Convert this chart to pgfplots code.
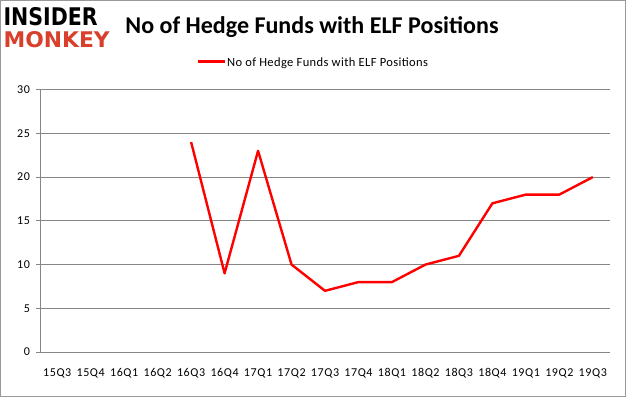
\documentclass[border=0pt]{standalone}
\usepackage{pgfplots}
\pgfplotsset{compat=1.18}
\usepackage{fontspec}
\setmainfont{Carlito}
\newfontfamily\tickfont{Carlito}[LetterSpace=5]
\newfontfamily\legfont{Carlito}[LetterSpace=3]
\newfontfamily\logofont{DejaVu Sans}
\definecolor{gridgray}{RGB}{134,134,134}
\definecolor{monkeyred}{RGB}{216,64,43}
\begin{document}
\begin{tikzpicture}[x=1pt,y=1pt]
\draw[gray!80, line width=0.8pt] (-40,-44) rectangle (584,351);
\begin{axis}[
  at={(0,0)}, anchor=south west,
  scale only axis, width=568pt, height=262pt,
  xmin=-0.5, xmax=16.5, ymin=0, ymax=30,
  ytick={0,5,...,30},
  xtick={0,...,16},
  xticklabels={15Q3,15Q4,16Q1,16Q2,16Q3,16Q4,17Q1,17Q2,17Q3,17Q4,18Q1,18Q2,18Q3,18Q4,19Q1,19Q2,19Q3},
  extra x ticks={-0.5,0.5,...,16.5},
  extra x tick labels={},
  extra x tick style={major tick length=4pt, tick style={gridgray, line width=0.8pt}, tick align=outside, grid=none},
  major x tick style={draw=none},
  ymajorgrids, grid style={gridgray, line width=0.8pt},
  axis x line*=bottom, axis y line*=left,
  axis line style={gridgray, line width=0.8pt},
  y axis line style={-}, x axis line style={-},
  ytick style={gridgray, line width=0.8pt}, tick align=outside, major tick length=4pt,
  tick label style={font=\tickfont\fontsize{12}{13}\selectfont, text=black},
  yticklabel style={xshift=-3pt},
  xticklabel style={yshift=-9pt},
  /pgf/number format/assume math mode=true,
]
\addplot[red, line width=2.4pt, line join=round] coordinates {
 (4,24) (5,9) (6,23) (7,10) (8,7) (9,8) (10,8) (11,10) (12,11) (13,17) (14,18) (15,18) (16,20)
};
\end{axis}
\node[anchor=base, font=\bfseries\fontsize{24}{26}\selectfont, inner sep=0pt] at (271,318) {No of Hedge Funds with ELF Positions};
\draw[red, line width=2.2pt] (157,290) -- (184,290);
\node[anchor=base west, font=\legfont\fontsize{12.5}{13}\selectfont, inner sep=0pt] at (186,285) {No of Hedge Funds with ELF Positions};
\node[anchor=south west, inner sep=0pt, font=\logofont\bfseries] at (-37,325) {\resizebox{94pt}{18pt}{INSIDER}};
\node[anchor=south west, inner sep=0pt, text=monkeyred, font=\logofont\bfseries] at (-37,303) {\resizebox{106pt}{16pt}{MONKEY}};
\end{tikzpicture}
\end{document}
